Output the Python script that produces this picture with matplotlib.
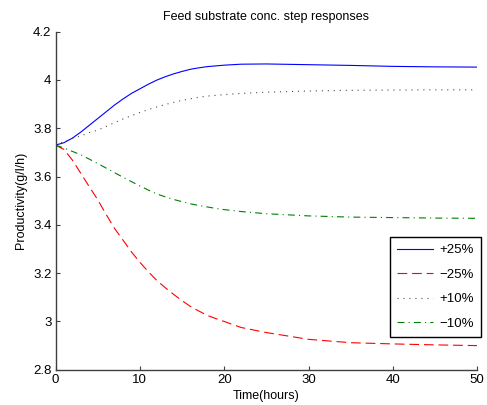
import numpy as np
import matplotlib
matplotlib.use("Agg")
from matplotlib import pyplot as plt
from matplotlib.ticker import FormatStrFormatter

plt.rcParams['font.family'] = ['Liberation Sans', 'DejaVu Sans']
plt.rcParams['lines.scale_dashes'] = False

# time grid (hours) and productivity responses (g/l/h)
t = [0, 1, 2, 3, 4, 5, 6, 7, 8, 9, 10, 11, 12, 13, 14, 15, 16, 17, 18, 19, 20,
     22, 25, 30, 35, 40, 45, 50]
p_plus25 = [3.730, 3.740, 3.759, 3.784, 3.812, 3.840, 3.868, 3.896, 3.921, 3.944, 3.963,
            3.982, 3.999, 4.013, 4.025, 4.035, 4.044, 4.050, 4.055, 4.058, 4.061,
            4.065, 4.066, 4.063, 4.060, 4.056, 4.054, 4.053]
p_minus25 = [3.730, 3.712, 3.668, 3.613, 3.558, 3.504, 3.443, 3.385, 3.337, 3.288, 3.245,
             3.206, 3.170, 3.140, 3.112, 3.086, 3.062, 3.043, 3.025, 3.012, 3.000,
             2.975, 2.954, 2.926, 2.912, 2.907, 2.903, 2.900]
p_plus10 = [3.730, 3.745, 3.757, 3.768, 3.782, 3.792, 3.807, 3.823, 3.838, 3.852, 3.865,
            3.877, 3.888, 3.898, 3.907, 3.915, 3.922, 3.928, 3.933, 3.936, 3.939,
            3.944, 3.949, 3.954, 3.957, 3.958, 3.959, 3.959]
p_minus10 = [3.730, 3.718, 3.704, 3.690, 3.672, 3.654, 3.635, 3.616, 3.597, 3.579, 3.561,
             3.544, 3.528, 3.516, 3.505, 3.496, 3.487, 3.480, 3.474, 3.468, 3.463,
             3.455, 3.446, 3.437, 3.432, 3.430, 3.428, 3.427]
labels = ['+25%', '\u221225%', '+10%', '\u221210%']

fig = plt.figure(figsize=(4.87, 4.05), dpi=100)
ax = fig.add_axes([0.114, 0.087, 0.866, 0.835])

ax.plot(t, p_plus25, color='#0000ff', lw=0.8, label=labels[0])
ax.plot(t, p_minus25, color='#ff0000', lw=0.8, linestyle=(0, (7, 3.5)), label=labels[1])
ax.plot(t, p_plus10, color='0.3', lw=0.8, linestyle=(0, (0.8, 3.5)), label=labels[2])
ax.plot(t, p_minus10, color='#008000', lw=0.8, linestyle=(0, (5, 3, 0.8, 3)), label=labels[3])

ax.set_xlim(0, 50)
ax.set_ylim(2.8, 4.2)
ax.set_xticks(np.arange(0, 51, 10))
ax.set_yticks(np.arange(2.8, 4.21, 0.2))
ax.yaxis.set_major_formatter(FormatStrFormatter('%g'))

for s in ['top', 'right']:
    ax.spines[s].set_visible(False)
for s in ['left', 'bottom']:
    ax.spines[s].set_color('0.25')
    ax.spines[s].set_linewidth(1.0)
ax.tick_params(direction='in', length=3, width=0.8, color='0.25', labelsize=9.5, pad=3)

ax.set_title('Feed substrate conc. step responses', fontsize=9, pad=8)
ax.set_xlabel('Time(hours)', fontsize=9, labelpad=3)
ax.set_ylabel('Productivity(g/l/h)', fontsize=9, labelpad=4)

leg = ax.legend(loc='lower right', bbox_to_anchor=(1.009, 0.097), borderaxespad=0,
                fontsize=9.5, fancybox=False, framealpha=1, edgecolor='k',
                handlelength=2.7, borderpad=0.55, labelspacing=0.93, handletextpad=0.5)
leg.get_frame().set_linewidth(1.0)

fig.savefig('out.png', dpi=100)
